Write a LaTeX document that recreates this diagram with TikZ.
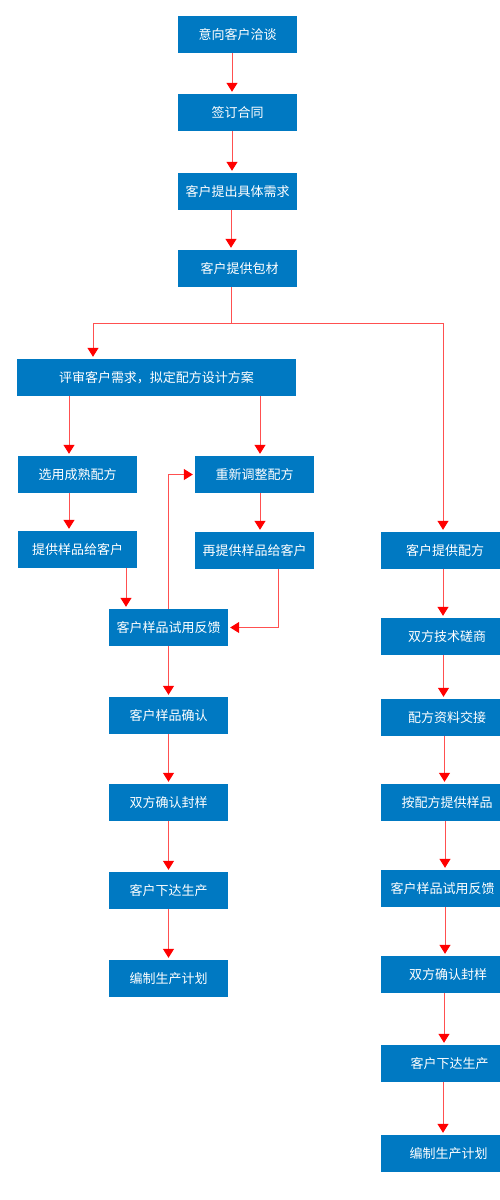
\documentclass[tikz,border=0pt]{standalone}
\usepackage{fontspec}
\newfontfamily\cjk{Noto Sans CJK SC}
\usepackage{tikz}
\usetikzlibrary{arrows.meta}
\definecolor{boxblue}{RGB}{0,121,194}
\definecolor{linered}{RGB}{255,80,80}
\tikzset{B/.style={rectangle, fill=boxblue, text=white, inner sep=0pt, minimum width=119pt, minimum height=37pt, font=\cjk\fontsize{13}{15}\selectfont}}
\tikzset{R/.style={B, execute at begin node={\hspace*{#1}}}, R/.default=13pt}
\tikzset{A/.style={draw=linered, line width=1pt, shorten >=2pt, -{Triangle[width=11pt,length=9pt,color=red]}}}
\begin{document}
\begin{tikzpicture}[x=1pt,y=-1pt]
            \useasboundingbox (0,0) rectangle (500,1200);
            \node[B] (n1) at (237.5,34.5) {意向客户洽谈};
            \node[B] (n2) at (237.5,112.5) {签订合同};
            \node[B] (n3) at (237.5,191.5) {客户提出具体需求};
            \node[R=4pt] (n4) at (237.5,268.5) {客户提供包材};
            \node[B,minimum width=279pt] (rv) at (156.5,377.5) {评审客户需求，拟定配方设计方案};
            \node[B] (a1) at (77.5,474.5) {选用成熟配方};
            \node[B] (a2) at (77.5,549.5) {提供样品给客户};
            \node[B] (b1) at (254.5,474.5) {重新调整配方};
            \node[B] (b2) at (254.5,550.5) {再提供样品给客户};
            \node[B] (c1) at (168.5,627.5) {客户样品试用反馈};
            \node[B] (c2) at (168.5,715.5) {客户样品确认};
            \node[B] (c3) at (168.5,802.5) {双方确认封样};
            \node[B] (c4) at (168.5,890.5) {客户下达生产};
            \node[B] (c5) at (168.5,978.5) {编制生产计划};
            \node[R=9pt] (d1) at (440.5,550.5) {客户提供配方};
            \node[R] (d2) at (440.5,636.5) {双方技术磋商};
            \node[R] (d3) at (440.5,717.5) {配方资料交接};
            \node[R] (d4) at (440.5,802.5) {按配方提供样品};
            \node[R=4pt] (d5) at (440.5,888.5) {客户样品试用反馈};
            \node[R=15pt] (d6) at (440.5,974.5) {双方确认封样};
            \node[R=18pt] (d7) at (440.5,1063.5) {客户下达生产};
            \node[R=16pt] (d8) at (440.5,1153.5) {编制生产计划};
            \coordinate (sp) at (231,323);
            \draw[A] ([xshift=-5.5pt]n1.south) -- ([xshift=-5.5pt]n2.north);
            \draw[A] ([xshift=-5.5pt]n2.south) -- ([xshift=-5.5pt]n3.north);
            \draw[A] ([xshift=-6.5pt]n3.south) -- ([xshift=-6.5pt]n4.north);
            \draw[A] ([xshift=-6.5pt]n4.south) -- (sp) -| ([xshift=-63.5pt]rv.north);
            \draw[A] (sp) -| ([xshift=2.5pt]d1.north);
            \draw[A] ([xshift=-87.5pt]rv.south) -- ([xshift=-8.5pt]a1.north);
            \draw[A] ([xshift=103.5pt]rv.south) -- ([xshift=5.5pt]b1.north);
            \draw[A] ([xshift=-8.5pt]a1.south) -- ([xshift=-8.5pt]a2.north);
            \draw[A] ([xshift=5.5pt]b1.south) -- ([xshift=5.5pt]b2.north);
            \draw[A] ([xshift=48.5pt]a2.south) -- ([xshift=-42.5pt]c1.north);
            \draw[A] (c1.north) |- (b1.west);
            \draw[A] ([xshift=23.5pt]b2.south) |- (c1.east);
            \draw[A] (c1) -- (c2);
            \draw[A] (c2) -- (c3);
            \draw[A] (c3) -- (c4);
            \draw[A] (c4) -- (c5);
            \draw[A] ([xshift=2.5pt]d1.south) -- ([xshift=2.5pt]d2.north);
            \draw[A] ([xshift=3pt]d2.south) -- ([xshift=3pt]d3.north);
            \draw[A] ([xshift=4pt]d3.south) -- ([xshift=4pt]d4.north);
            \draw[A] ([xshift=4.5pt]d4.south) -- ([xshift=4.5pt]d5.north);
            \draw[A] ([xshift=4.5pt]d5.south) -- ([xshift=4.5pt]d6.north);
            \draw[A] ([xshift=3.5pt]d6.south) -- ([xshift=3.5pt]d7.north);
            \draw[A] ([xshift=2.5pt]d7.south) -- ([xshift=2.5pt]d8.north);
\end{tikzpicture}
\end{document}
